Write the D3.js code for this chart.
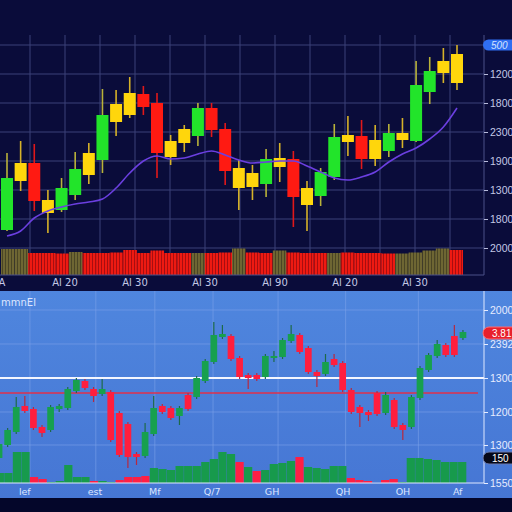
<!DOCTYPE html>
<html>
<head>
<meta charset="utf-8">
<script src="https://cdn.jsdelivr.net/npm/d3@7"></script>
<style>
  html, body { margin: 0; padding: 0; background: #04062a; }
  svg { display: block; }
</style>
</head>
<body>
<div id="chart"></div>
<script>
// ---- upper panel data (candles: open, high, low, close, colour code) ----
var topOpen  = [450, 940, 1120, 620, 650, 800, 1000, 1150, 1530, 1600, 1810, 1720, 1180, 1320, 1390, 1670, 1460, 870, 880, 910, 1080, 1160, 700, 790, 980, 1330, 1390, 1160, 1240, 1350, 1340, 1830, 2020, 1920];
var topHigh  = [1220, 1340, 1310, 850, 970, 1230, 1320, 1860, 1850, 1980, 1890, 1820, 1400, 1500, 1720, 1720, 1520, 1150, 1100, 1260, 1320, 1240, 940, 1070, 1510, 1590, 1550, 1500, 1510, 1570, 2140, 2180, 2270, 2300];
var topLow   = [440, 840, 640, 420, 630, 750, 910, 1020, 1390, 1570, 1600, 970, 1100, 1230, 1290, 1380, 900, 650, 750, 780, 930, 480, 440, 690, 950, 1190, 1060, 1090, 1180, 1270, 1330, 1710, 1920, 1850];
var topClose = [970, 1120, 740, 750, 870, 1060, 1220, 1600, 1710, 1820, 1680, 1220, 1340, 1460, 1670, 1450, 1040, 1070, 1020, 1160, 1170, 780, 870, 1030, 1380, 1400, 1160, 1350, 1420, 1420, 1900, 2040, 2140, 2210];
var topKind  = ["g", "y", "r", "y", "g", "g", "y", "g", "y", "y", "r", "r", "y", "y", "g", "r", "r", "y", "y", "g", "y", "r", "y", "g", "g", "y", "r", "y", "g", "y", "g", "g", "y", "y"];
var topMA    = [390, 440, 570, 640, 680, 710, 730, 760, 870, 1020, 1140, 1190, 1160, 1170, 1210, 1240, 1200, 1150, 1120, 1130, 1140, 1140, 1090, 1030, 970, 950, 980, 1030, 1130, 1210, 1270, 1360, 1480, 1670];
var topVol   = [104, 104, 88, 88, 86, 92, 88, 88, 90, 100, 88, 98, 88, 88, 88, 88, 90, 106, 90, 88, 98, 90, 88, 88, 88, 90, 88, 88, 86, 86, 90, 98, 106, 100];
var topVolKind = ["o", "o", "r", "r", "r", "o", "r", "r", "r", "r", "r", "r", "r", "r", "o", "r", "r", "o", "r", "r", "o", "r", "r", "r", "o", "r", "r", "r", "r", "o", "o", "o", "o", "r"];

var topGridVals = [2300, 2010, 1720, 1430, 1140, 850, 560, 270];
var topTickLabels = ["500", "1200", "1800", "2300", "1900", "1300", "1800", "2000"];
var topDateTicks = [0.2, 2, 4, 6, 8, 10, 12];
var topDateLabels = ["A", "Al 20", "Al 30", "Al 30", "Al 90", "Al 20", "Al 30"];

// ---- lower panel data ----
var botOpen  = [420, 550, 680, 940, 910, 730, 700, 910, 920, 1090, 1190, 1110, 1060, 1080, 870, 760, 460, 440, 660, 940, 920, 840, 1050, 1030, 1190, 1380, 1630, 1640, 1420, 1250, 1250, 1230, 1420, 1430, 1590, 1650, 1520, 1280, 1260, 1410, 1370, 1100, 930, 880, 1070, 870, 1000, 750, 730, 1020, 1300, 1440, 1550, 1640, 1620];
var botHigh  = [580, 720, 1030, 1040, 930, 750, 950, 960, 1130, 1220, 1210, 1130, 1210, 1100, 890, 780, 480, 770, 1040, 960, 940, 940, 1070, 1240, 1410, 1780, 1750, 1660, 1440, 1270, 1270, 1460, 1490, 1620, 1750, 1670, 1540, 1300, 1460, 1460, 1390, 1120, 950, 900, 1090, 1080, 1020, 770, 1050, 1340, 1470, 1600, 1570, 1750, 1700];
var botLow   = [400, 530, 660, 870, 700, 630, 680, 880, 900, 1070, 1100, 980, 1040, 580, 430, 320, 350, 420, 640, 860, 800, 750, 890, 1010, 1170, 1360, 1610, 1390, 1210, 1110, 1190, 1210, 1380, 1410, 1570, 1460, 1260, 1130, 1240, 1330, 1080, 860, 730, 790, 840, 850, 710, 600, 710, 1000, 1280, 1420, 1430, 1430, 1600];
var botClose = [560, 700, 930, 890, 720, 670, 930, 940, 1110, 1200, 1120, 1040, 1110, 600, 450, 430, 430, 680, 920, 880, 820, 920, 910, 1220, 1390, 1650, 1660, 1410, 1230, 1220, 1210, 1440, 1440, 1600, 1660, 1480, 1280, 1240, 1380, 1350, 1100, 880, 870, 850, 860, 1050, 730, 700, 1030, 1320, 1450, 1560, 1450, 1450, 1680];
var botVol   = [10, 10, 31, 31, 6, 4, 1, 2, 18, 6, 6, 2, 2, 1, 3, 6, 6, 7, 15, 14, 13, 17, 17, 17, 21, 24, 31, 29, 21, 16, 12, 13, 19, 20, 22, 26, 16, 15, 14, 17, 17, 5, 3, 2, 1, 3, 4, 1, 25, 25, 24, 23, 21, 21, 21];
var botVolKind = ["g", "g", "g", "g", "r", "r", "g", "g", "g", "g", "g", "r", "g", "g", "r", "r", "r", "r", "g", "g", "g", "g", "g", "g", "g", "g", "g", "g", "r", "g", "r", "g", "g", "g", "g", "r", "g", "g", "g", "g", "g", "r", "r", "r", "b", "r", "r", "g", "g", "g", "g", "g", "g", "g", "g"];

var botGridVals = [1900, 1560, 1220, 880, 550];
var botTickVals = [1900, 1560, 1220, 880, 550, 170];
var botTickLabels = ["2000", "2392", "1300", "1200", "1300", "1550"];
var botDateTicks = [2.9, 11.1, 18.1, 24.8, 31.8, 40.1, 47.1, 53.5];
var botDateLabels = ["lef", "est", "Mf", "Q/7", "GH", "QH", "OH", "Af"];
var botVGrid = [3.5, 11.2, 18.1, 24.9, 32.5, 40.4, 48.9];
var levelWhite = 1220;
var levelRed = 1070;
var pillRed = { value: 1670, text: "3.81" };
var pillBlack = { value: 420, text: "150" };

var width = 512, height = 512;
var axisX = 484;

var svg = d3.select("#chart").append("svg")
  .attr("width", width)
  .attr("height", height);

var defs = svg.append("defs");
function stripe(id, base, dark) {
  var p = defs.append("pattern").attr("id", id)
    .attr("patternUnits", "userSpaceOnUse")
    .attr("width", 3).attr("height", 10);
  p.append("rect").attr("width", 3).attr("height", 10).attr("fill", base);
  p.append("rect").attr("x", 2).attr("width", 1).attr("height", 10).attr("fill", dark);
}
stripe("redStripe", "#ee1a12", "#a80e10");
stripe("oliveStripe", "#6e6633", "#4a4525");

var grad = defs.append("linearGradient").attr("id", "blueBg")
  .attr("x1", 0).attr("y1", 0).attr("x2", 0).attr("y2", 1);
grad.append("stop").attr("offset", "0%").attr("stop-color", "#4f86de");
grad.append("stop").attr("offset", "100%").attr("stop-color", "#4676d4");

// backgrounds
svg.append("rect").attr("width", width).attr("height", 291).attr("fill", "#0a0c3a");
svg.append("rect").attr("y", 291).attr("width", width).attr("height", 207).attr("fill", "url(#blueBg)");
svg.append("rect").attr("y", 498).attr("width", width).attr("height", 14).attr("fill", "#04062a");

// ================= upper panel =================
var yTop = d3.scaleLinear().domain([0, 2400]).range([275, 35]);
var yVolTop = d3.scaleLinear().domain([0, 120]).range([275, 245]);
var xTop = d3.scaleBand().domain(d3.range(topOpen.length)).range([1, 463]).paddingInner(0.12);
var xTopVol = d3.scaleBand().domain(d3.range(topOpen.length)).range([1, 463]).paddingInner(0);
var xGridTop = d3.scaleLinear().domain([0, 13]).range([-5, 450]);

var topG = svg.append("g");

topG.selectAll(".hgrid").data(topGridVals).enter().append("line")
  .attr("x1", 0).attr("x2", axisX)
  .attr("y1", function (d) { return yTop(d); }).attr("y2", function (d) { return yTop(d); })
  .attr("stroke", "#3a4078").attr("stroke-width", 1);

topG.selectAll(".vgrid").data(d3.range(1, 14)).enter().append("line")
  .attr("x1", function (d) { return xGridTop(d); }).attr("x2", function (d) { return xGridTop(d); })
  .attr("y1", 35).attr("y2", 275)
  .attr("stroke", "#3a4078").attr("stroke-width", 1);

// volume
topG.selectAll(".vol").data(topVol).enter().append("rect")
  .attr("x", function (d, i) { return xTopVol(i); })
  .attr("width", xTopVol.bandwidth())
  .attr("y", function (d) { return yVolTop(d); })
  .attr("height", function (d) { return 275 - yVolTop(d); })
  .attr("fill", function (d, i) { return topVolKind[i] == "r" ? "url(#redStripe)" : "url(#oliveStripe)"; });

var topFill = { g: "#22e42a", y: "#ffd60c", r: "#ff1a12" };
var topWick = { g: "#b9b23a", y: "#d6b229", r: "#e0181a" };

var tc = topG.selectAll(".candle").data(topOpen).enter().append("g");
tc.append("line")
  .attr("x1", function (d, i) { return xTop(i) + xTop.bandwidth() / 2; })
  .attr("x2", function (d, i) { return xTop(i) + xTop.bandwidth() / 2; })
  .attr("y1", function (d, i) { return yTop(topHigh[i]); })
  .attr("y2", function (d, i) { return yTop(topLow[i]); })
  .attr("stroke", function (d, i) { return topWick[topKind[i]]; })
  .attr("stroke-width", 1.6);
tc.append("rect")
  .attr("x", function (d, i) { return xTop(i); })
  .attr("width", xTop.bandwidth())
  .attr("y", function (d, i) { return yTop(Math.max(topOpen[i], topClose[i])); })
  .attr("height", function (d, i) { return Math.abs(yTop(topOpen[i]) - yTop(topClose[i])); })
  .attr("fill", function (d, i) { return topFill[topKind[i]]; });

var maLine = d3.line()
  .x(function (d, i) { return xTop(i) + xTop.bandwidth() / 2; })
  .y(function (d) { return yTop(d); })
  .curve(d3.curveMonotoneX);
topG.append("path").datum(topMA)
  .attr("d", maLine)
  .attr("fill", "none")
  .attr("stroke", "#6b3fe0")
  .attr("stroke-width", 1.6);

// frame lines
topG.append("line").attr("x1", 0).attr("x2", axisX).attr("y1", 275).attr("y2", 275)
  .attr("stroke", "#4a5088");

var topAxis = topG.append("g")
  .attr("transform", "translate(" + axisX + ",0)")
  .call(d3.axisRight(yTop)
    .tickValues(topGridVals.slice(1))
    .tickFormat(function (d, i) { return topTickLabels[i + 1]; })
    .tickSize(4).tickPadding(2));
topAxis.select(".domain").attr("d", "M0,35V275").attr("stroke", "#4a5088");
topAxis.selectAll(".tick line").attr("stroke", "#b8bcdc");
topAxis.selectAll("text").attr("fill", "#c4c8e6")
  .style("font-family", "Liberation Sans, Arial, sans-serif").style("font-size", "10.5px");

// blue pill
var pillY = yTop(topGridVals[0]);
topG.append("rect").attr("x", 483).attr("y", pillY - 5.5).attr("width", 40).attr("height", 11)
  .attr("rx", 5.5).attr("fill", "#2f6ef2");
topG.append("text").attr("x", 491).attr("y", pillY + 3.5)
  .attr("fill", "#d4e2ff").style("font-family", "Liberation Sans, Arial, sans-serif")
  .style("font-size", "10px").style("font-style", "italic").text(topTickLabels[0]);

// date labels
topG.selectAll(".tdate").data(topDateTicks).enter().append("text")
  .attr("x", function (d) { return xGridTop(d); })
  .attr("y", 286)
  .attr("text-anchor", "middle")
  .attr("fill", "#c4c8e6")
  .style("font-family", "DejaVu Sans, sans-serif").style("font-size", "10px")
  .text(function (d, i) { return topDateLabels[i]; });

// ================= lower panel =================
var yBot = d3.scaleLinear().domain([0, 2100]).range([500, 290]);
var yVolBot = d3.scaleLinear().domain([0, 40]).range([483, 443]);
var xBot = d3.scaleBand().domain(d3.range(botOpen.length)).range([-4.3, 466.3]).paddingInner(0.22);
var xBotVol = d3.scaleBand().domain(d3.range(botOpen.length)).range([-4.3, 466.3]).paddingInner(0.04);
var xBotIdx = d3.scaleLinear().domain([0, 54]).range([0, 462]);

var botG = svg.append("g");

botG.selectAll(".bh").data(botGridVals).enter().append("line")
  .attr("x1", 0).attr("x2", axisX)
  .attr("y1", function (d) { return yBot(d); }).attr("y2", function (d) { return yBot(d); })
  .attr("stroke", "#7ca2ea").attr("stroke-opacity", 0.6);
botG.selectAll(".bv").data(botVGrid).enter().append("line")
  .attr("x1", function (d) { return xBotIdx(d); }).attr("x2", function (d) { return xBotIdx(d); })
  .attr("y1", 291).attr("y2", 483)
  .attr("stroke", "#7ca2ea").attr("stroke-opacity", 0.6);

// level lines
botG.append("line").attr("x1", 0).attr("x2", axisX)
  .attr("y1", yBot(levelWhite)).attr("y2", yBot(levelWhite))
  .attr("stroke", "#f4f6ff").attr("stroke-width", 2);
botG.append("line").attr("x1", 0).attr("x2", 478)
  .attr("y1", yBot(levelRed)).attr("y2", yBot(levelRed))
  .attr("stroke", "#e0304a").attr("stroke-width", 1.4);

var volColor = { g: "#179a4c", r: "#ff1f44", b: "#2b62c8" };
botG.selectAll(".bvol").data(botVol).enter().append("rect")
  .attr("x", function (d, i) { return xBotVol(i); })
  .attr("width", xBotVol.bandwidth())
  .attr("y", function (d) { return yVolBot(d); })
  .attr("height", function (d) { return 483 - yVolBot(d); })
  .attr("fill", function (d, i) { return volColor[botVolKind[i]]; });

var bc = botG.selectAll(".bcandle").data(botOpen).enter().append("g");
bc.append("line")
  .attr("x1", function (d, i) { return xBot(i) + xBot.bandwidth() / 2; })
  .attr("x2", function (d, i) { return xBot(i) + xBot.bandwidth() / 2; })
  .attr("y1", function (d, i) { return yBot(botHigh[i]); })
  .attr("y2", function (d, i) { return yBot(botLow[i]); })
  .attr("stroke", function (d, i) { return botClose[i] >= botOpen[i] ? "#1d6a48" : "#b8283e"; })
  .attr("stroke-width", 1.2);
bc.append("rect")
  .attr("x", function (d, i) { return xBot(i); })
  .attr("width", xBot.bandwidth())
  .attr("y", function (d, i) { return yBot(Math.max(botOpen[i], botClose[i])); })
  .attr("height", function (d, i) { return Math.max(1.5, Math.abs(yBot(botOpen[i]) - yBot(botClose[i]))); })
  .attr("fill", function (d, i) { return botClose[i] >= botOpen[i] ? "#17a04e" : "#ff1e3e"; });

// axes
botG.append("line").attr("x1", 0).attr("x2", axisX).attr("y1", 483).attr("y2", 483)
  .attr("stroke", "#dfe8ff").attr("stroke-width", 1);
var botAxis = botG.append("g")
  .attr("transform", "translate(" + axisX + ",0)")
  .call(d3.axisRight(yBot)
    .tickValues(botTickVals)
    .tickFormat(function (d, i) { return botTickLabels[i]; })
    .tickSize(4).tickPadding(2));
botAxis.select(".domain").attr("d", "M0,291V483").attr("stroke", "#dfe8ff");
botAxis.selectAll(".tick line").attr("stroke", "#e6ecff");
botAxis.selectAll("text").attr("fill", "#e6ecff")
  .style("font-family", "Liberation Sans, Arial, sans-serif").style("font-size", "10.5px");

function pill(p, fill, stroke) {
  var y = yBot(p.value);
  botG.append("rect").attr("x", 483).attr("y", y - 6).attr("width", 40).attr("height", 12)
    .attr("rx", 6).attr("fill", fill).attr("stroke", stroke);
  botG.append("text").attr("x", 492).attr("y", y + 3.5)
    .attr("fill", "#ffffff").style("font-family", "Liberation Sans, Arial, sans-serif")
    .style("font-size", "10px").text(p.text);
}
pill(pillRed, "#e8202c", "#ff6a70");
pill(pillBlack, "#060818", "#6a7ab0");

botG.selectAll(".bdate").data(botDateTicks).enter().append("text")
  .attr("x", function (d) { return xBotIdx(d); })
  .attr("y", 495)
  .attr("text-anchor", "middle")
  .attr("fill", "#dce6ff")
  .style("font-family", "DejaVu Sans, sans-serif").style("font-size", "9.5px")
  .text(function (d, i) { return botDateLabels[i]; });

// panel caption
botG.append("text").attr("x", 1).attr("y", 306)
  .attr("fill", "#dce6ff")
  .style("font-family", "DejaVu Sans, sans-serif").style("font-size", "10px")
  .text("mmnEl");
</script>
</body>
</html>
